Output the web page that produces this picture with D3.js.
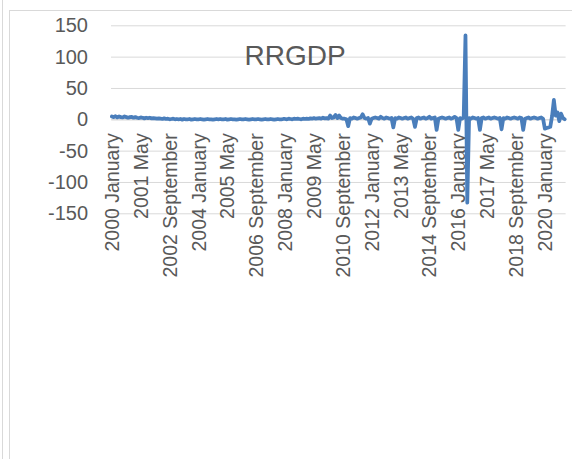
<!DOCTYPE html>
<html>
<head>
<meta charset="utf-8">
<script src="https://cdn.jsdelivr.net/npm/d3@7"></script>
<style>
  html, body { margin: 0; padding: 0; background: #ffffff; }
  svg { display: block; }
  text { font-family: "Liberation Sans", Arial, sans-serif; fill: #595959; }
</style>
</head>
<body>
<svg id="chart" width="572" height="459"></svg>
<script>
// ---- data ----
const title = "RRGDP";
const startYear = 2000;
const monthNames = ["January","February","March","April","May","June","July","August","September","October","November","December"];
const yTicks = [-150, -100, -50, 0, 50, 100, 150];
const labelEvery = 16;
// monthly values, 2000 January .. 2020 December
const values = [
  4.5, 3.5, 5, 3, 4.5, 3.5, 3, 4.5, 3.5, 2.5, 3.5, 4,        // 2000
  2.5, 3.5, 2.5, 2, 3, 2.5, 1.5, 2.5, 2, 2.5, 1.5, 2,        // 2001
  1.5, 1, 1.5, 1, 0.5, 1.5, 0.5, 1, 0, 0.5, 1, 0,            // 2002
  0.5, 0, 0.5, -0.5, 0.5, 0, 0, 0.5, -0.5, 0, 0.5, 0,        // 2003
  0, 0.5, 0, -0.5, 0, 0.5, 0, 0, -0.5, 0, 0.5, 0,            // 2004
  0.5, 0, 0, 0.5, -0.5, 0, 0.5, 0, 0, -0.5, 0, 0.5,          // 2005
  0, 0, 0.5, 0, -0.5, 0, 0.5, 0, 0, 0.5, 0, -0.5,            // 2006
  0, 0.5, 0, 0, 0.5, 0, -0.5, 0, 0.5, 0, 0, 0.5,             // 2007
  0.5, 0, 1, 0.5, 0, 1, 0.5, 1, 0.5, 0, 1, 0.5,              // 2008
  1, 0.5, 1.5, 1, 2, 1, 1.5, 2, 1, 2.5, 1.5, 2,              // 2009
  1, 6, 2, 3, 7, 2, 6, 2, 1, 1, 0, -11,                      // 2010
  2, 1, 3, 2, 1, 2, 3, 8, 2, 1, 2, -7,                       // 2011
  1, 2, 3, 2, 1, 4, 2, 1, 3, 2, 1, 2,                        // 2012
  -13, 2, 1, 3, 2, 1, 2, 3, 1, 2, 3, 1,                      // 2013
  -12, 2, 3, 1, 2, 3, 1, 2, 4, 1, 2, 3,                      // 2014
  -17, 1, 2, 3, 2, 1, 2, 3, 1, 2, 4, 2,                      // 2015
  -17, 2, 1, 3, 134, -133, 2, 1, 3, 2, 1, 2,                 // 2016
  -17, 2, 3, 1, 2, 3, 1, 2, 3, 2, 1, 2,                      // 2017
  -16, 2, 1, 3, 2, 1, 2, 3, 2, 1, 3, 2,                      // 2018
  -17, 1, 2, 3, 1, 2, 3, 2, 1, 2, 3, 1,                      // 2019
  -15, -14, -13, -12, 5, 31, 6, 11, -3, 9, 2, 0              // 2020
];
const categories = values.map((v, i) =>
  (startYear + Math.floor(i / 12)) + " " + monthNames[i % 12]);

// ---- layout ----
const svg = d3.select("#chart");
const plot = { left: 111, right: 565.6, top: 25.3, bottom: 213.3 };
const gridColor = "#d9d9d9";
const lineColor = "#4a7ebb";

// frame
svg.append("line").attr("x1", 2.5).attr("x2", 2.5).attr("y1", 0).attr("y2", 459)
  .attr("stroke", gridColor).attr("stroke-width", 1);
svg.append("rect").attr("x", 9.5).attr("y", 10.5).attr("width", 620).attr("height", 500)
  .attr("fill", "none").attr("stroke", gridColor).attr("stroke-width", 1);

const x = d3.scaleBand().domain(d3.range(values.length)).range([plot.left, plot.right]);
const xc = i => x(i) + x.bandwidth() / 2;
const y = d3.scaleLinear().domain([-150, 150]).range([plot.bottom, plot.top]);

// y axis with gridlines
const yAxis = svg.append("g").attr("transform", `translate(${plot.left},0)`)
  .call(d3.axisLeft(y).tickValues(yTicks).tickSize(-(plot.right - plot.left)).tickPadding(23).tickFormat(d => String(d)));
yAxis.select(".domain").remove();
yAxis.selectAll(".tick line").attr("stroke", gridColor).attr("stroke-width", 1);
yAxis.selectAll(".tick text").attr("font-size", 20).style("font-family", "'Liberation Sans', Arial, sans-serif").attr("fill", "#595959");

// x axis at zero
const tickIdx = d3.range(0, values.length, labelEvery);
const xAxis = svg.append("g").attr("transform", `translate(0,${y(0)})`)
  .call(d3.axisBottom(x).tickValues(tickIdx).tickSize(0).tickFormat(i => categories[i]));
xAxis.select(".domain").attr("stroke", gridColor);
xAxis.selectAll(".tick text")
  .attr("font-size", 19.5)
  .style("font-family", "'Liberation Sans', Arial, sans-serif")
  .attr("fill", "#595959")
  .attr("text-anchor", "end")
  .attr("transform", "rotate(-90)")
  .attr("x", -14).attr("y", 0).attr("dy", "0.36em");

// title
svg.append("text").attr("x", 295).attr("y", 65).attr("text-anchor", "middle")
  .attr("font-size", 28).text(title);

// line
const line = d3.line().x((d, i) => xc(i)).y(d => y(d));
svg.append("path").datum(values).attr("d", line)
  .attr("fill", "none").attr("stroke", lineColor).attr("stroke-width", 3.75)
  .attr("stroke-linejoin", "round").attr("stroke-linecap", "round");
</script>
</body>
</html>
